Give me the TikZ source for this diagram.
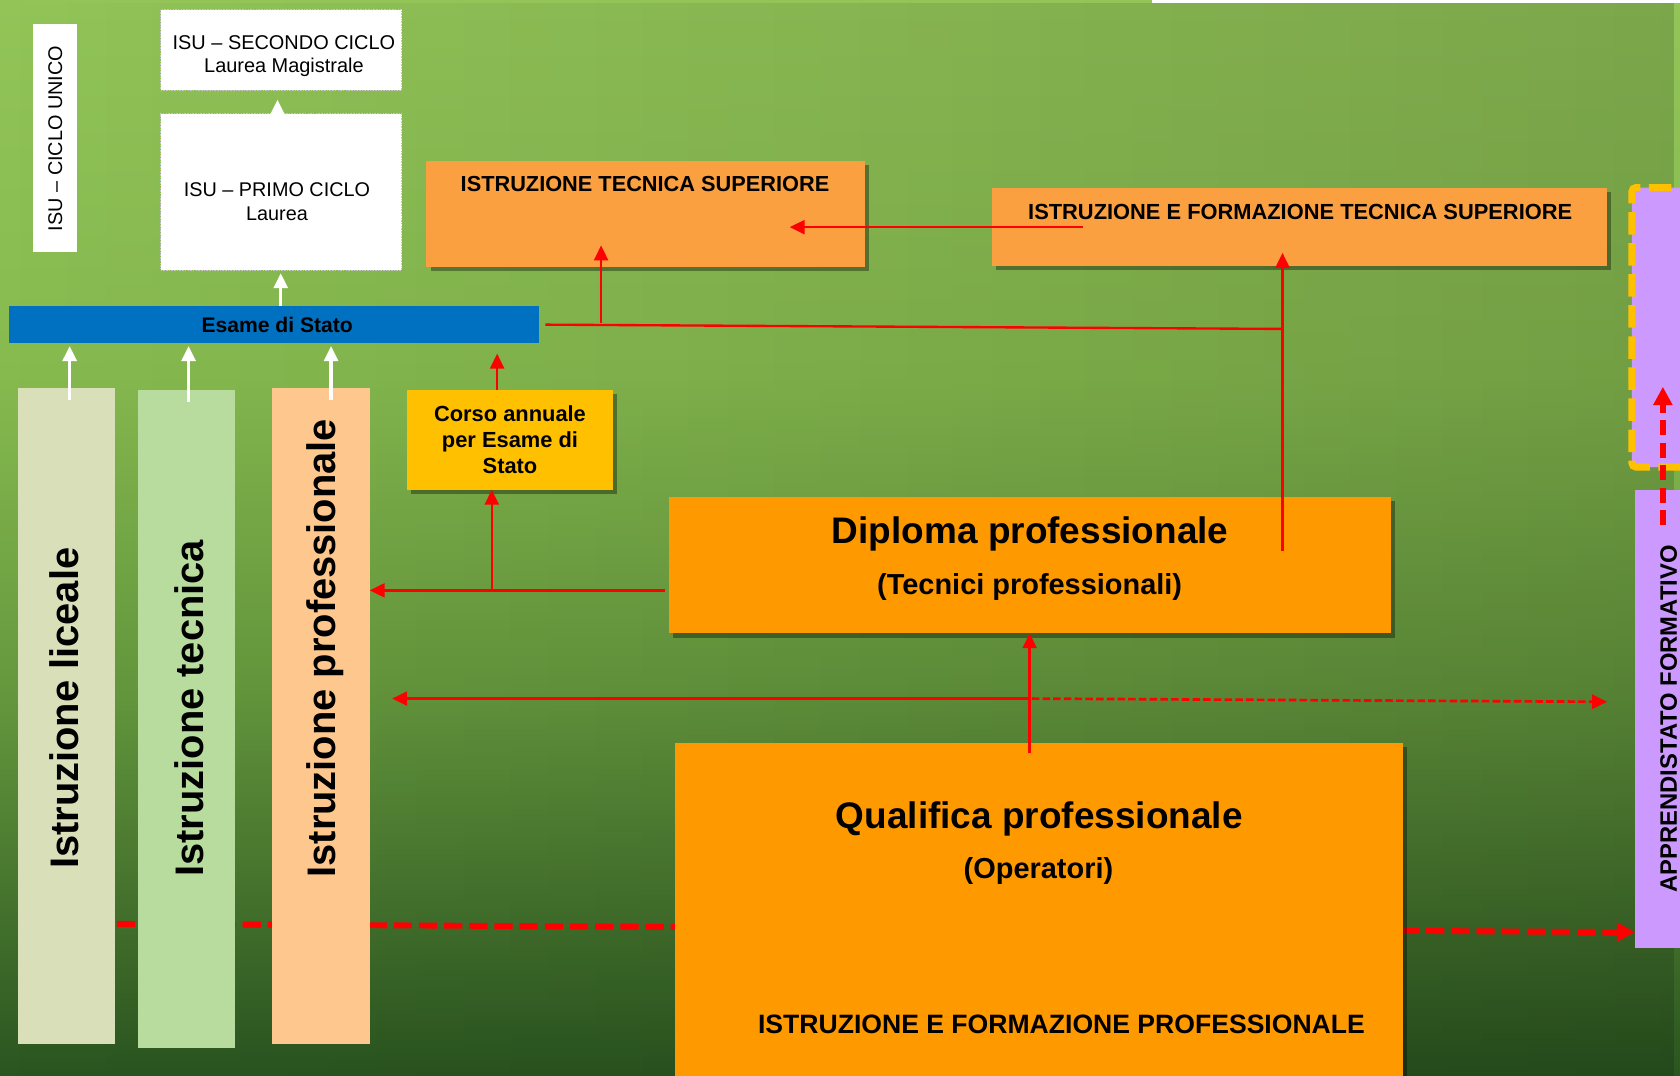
\documentclass[tikz,border=0pt]{standalone}
\usepackage{fontspec}
\setmainfont{Liberation Sans}
\usetikzlibrary{arrows.meta,shadows,fadings}
\definecolor{bgA}{HTML}{92C458}
\definecolor{bgB}{HTML}{86BA4F}
\definecolor{bgC}{HTML}{64973D}
\definecolor{bgD}{HTML}{2A5520}
\definecolor{esamec}{HTML}{0070C0}
\definecolor{orLight}{HTML}{FBA040}
\definecolor{orDark}{HTML}{FF9900}
\definecolor{goldc}{HTML}{FFC000}
\definecolor{liceoc}{HTML}{D9E0B9}
\definecolor{tecnc}{HTML}{B8DC9E}
\definecolor{profc}{HTML}{FDC78E}
\definecolor{lilacc}{HTML}{CC99FF}
\definecolor{redl}{HTML}{FF0000}
\newcommand{\fsz}[1]{\fontsize{#1pt}{#1pt}\selectfont}
\tikzfading[name=darkright, left color=transparent!100, right color=transparent!0]
\pgfdeclarelayer{back}
\pgfdeclarelayer{under}
\pgfsetlayers{back,under,main}
\begin{document}
\begin{tikzpicture}[x=1pt,y=-1pt,
  bx/.style={rectangle, inner sep=0pt, outer sep=0pt, anchor=north west},
  shad/.style={drop shadow={shadow xshift=4pt, shadow yshift=-4pt, opacity=0.35, fill=black}},
  lbl/.style={inner sep=0pt, outer sep=0pt, anchor=base, text=black},
  isubox/.style={bx, fill=white, draw=black!22, line width=0.7pt, dash pattern=on 1.5pt off 1pt},
  redln/.style={draw=redl, line width=2.2pt},
  redar/.style={redln, -{Triangle[length=14pt,width=13pt]}},
  whar/.style={draw=white, line width=3pt, -{Triangle[length=14pt,width=13pt]}},
  thindash/.style={redar, line width=2.5pt, dash pattern=on 7pt off 3pt},
  thickdash/.style={draw=redl, line width=5.5pt, dash pattern=on 17pt off 6.5pt, -{Triangle[length=17pt,width=17pt]}}
]
\useasboundingbox (0,0) rectangle (1568,1004);
\clip (0,0) rectangle (1568,1004);
\begin{pgfonlayer}{back}
\shade[top color=bgA, bottom color=bgB] (0,0) rectangle (1568,352);
\shade[top color=bgB, bottom color=bgC] (0,350) rectangle (1568,652);
\shade[top color=bgC, bottom color=bgD] (0,650) rectangle (1568,1004);
\fill[black, fill opacity=0.15, path fading=darkright] (0,0) rectangle (1568,1004);
\end{pgfonlayer}

% boxes
\node[bx, fill=white, minimum width=500pt, minimum height=2.5pt] (topbar) at (1075,0) {};
\node[bx, fill=white, minimum width=41pt, minimum height=213pt] (unico) at (31,22) {};
\node[isubox, minimum width=225pt, minimum height=75pt] (secondo) at (150,9) {};
\node[isubox, minimum width=225pt, minimum height=146pt] (primo) at (150,106) {};
\node[bx, fill=esamec, minimum width=495pt, minimum height=34pt] (esame) at (8,286) {};
\node[bx, fill=orLight, shad, minimum width=409pt, minimum height=99pt] (its) at (398,150) {};
\node[bx, fill=orLight, shad, minimum width=574pt, minimum height=73pt] (ifts) at (926,175) {};
\node[bx, fill=goldc, shad, minimum width=192pt, minimum height=93pt] (corso) at (380,364) {};
\node[bx, fill=liceoc, minimum width=90pt, minimum height=612pt] (liceale) at (17,362) {};
\node[bx, fill=tecnc, minimum width=90pt, minimum height=614pt] (tecnica) at (129,364) {};
\node[bx, fill=profc, minimum width=91pt, minimum height=612pt] (prof) at (254,362) {};
\node[bx, fill=orDark, shad, minimum width=674pt, minimum height=127pt] (dipl) at (624,464) {};
\node[bx, fill=orDark, shad, minimum width=679pt, minimum height=330pt] (qual) at (630,693) {};
\node[bx, fill=lilacc, draw=goldc, line width=6.5pt, dash pattern=on 21pt off 8pt, rounded corners=4pt, minimum width=70pt, minimum height=261pt] (lilac) at (1523,175) {};
\node[bx, fill=lilacc, minimum width=60pt, minimum height=428pt] (appr) at (1526,457) {};

% thick dashed line behind columns and Qualifica
\begin{pgfonlayer}{under}
\coordinate (b1) at (62,862);
\coordinate (b1y) at (0,870);
\draw[thickdash] (b1) -- (appr.west |- b1y);
\end{pgfonlayer}

% texts
\node[lbl, rotate=90, font=\fsz{18.5}] (tunico) at (58,129.3) {ISU – CICLO UNICO};
\node[lbl, font=\fsz{18.6}] (tsec1) at (265,46) {ISU – SECONDO CICLO};
\node[lbl, font=\fsz{18.6}] (tsec2) at (265,67.8) {Laurea Magistrale};
\node[lbl, font=\fsz{18.5}] (tpri1) at (258.5,183.5) {ISU – PRIMO CICLO};
\node[lbl, font=\fsz{18.5}] (tpri2) at (258.5,206) {Laurea};
\node[lbl, font=\bfseries\fsz{19.7}] (tesame) at (258.7,310) {Esame di Stato};
\node[lbl, font=\bfseries\fsz{20.3}] (tits) at (602,179) {ISTRUZIONE TECNICA SUPERIORE};
\node[lbl, font=\bfseries\fsz{20.4}] (tifts) at (1213.5,204.7) {ISTRUZIONE E FORMAZIONE TECNICA SUPERIORE};
\node[lbl, font=\bfseries\fsz{20.4}] (tc1) at (476,393) {Corso annuale};
\node[lbl, font=\bfseries\fsz{20.4}] (tc2) at (476,418) {per Esame di};
\node[lbl, font=\bfseries\fsz{20.4}] (tc3) at (476,442) {Stato};
\node[lbl, font=\bfseries\fsz{34.5}] (tdip1) at (961.5,507) {Diploma professionale};
\node[lbl, font=\bfseries\fsz{27}] (tdip2) at (961,555.3) {(Tecnici professionali)};
\node[lbl, font=\bfseries\fsz{34.5}] (tq1) at (970,773) {Qualifica professionale};
\node[lbl, font=\bfseries\fsz{27}] (tq2) at (969.2,819.8) {(Operatori)};
\node[lbl, font=\bfseries\fsz{24.8}] (tq3) at (990.7,964.4) {ISTRUZIONE E FORMAZIONE PROFESSIONALE};
\node[lbl, rotate=90, font=\bfseries\fsz{37.2}] (tlic) at (73,661) {Istruzione liceale};
\node[lbl, rotate=90, font=\bfseries\fsz{37.2}] (ttec) at (189.8,661) {Istruzione tecnica};
\node[lbl, rotate=90, font=\bfseries\fsz{37.2}] (tpro) at (312.7,605) {Istruzione professionale};
\node[lbl, rotate=90, font=\bfseries\fsz{22.2}] (tapp) at (1565,671) {APPRENDISTATO FORMATIVO};

% white arrows
\coordinate (w1) at (65,373);
\coordinate (w2) at (176,375);
\coordinate (w3) at (309,373);
\coordinate (w4) at (262,0);
\coordinate (w5) at (259,112);
\draw[whar, shorten >=3pt] (w1) -- (w1 |- esame.south);
\draw[whar, shorten >=3pt] (w2) -- (w2 |- esame.south);
\draw[whar, shorten >=3pt] (w3) -- (w3 |- esame.south);
\draw[whar, shorten >=3pt] (esame.north -| w4) -- (primo.south -| w4);
\draw[whar, shorten >=9pt] (w5) -- (w5 |- secondo.south);

% red arrows
\coordinate (r1) at (464,0);
\draw[redar, shorten >=10pt] (corso.north -| r1) -- (esame.south -| r1);
\coordinate (r2) at (620.6,551);
\draw[redar] (r2) -- (r2 -| prof.east);
\coordinate (r3) at (459,551);
\draw[redar] (r3) -- (r3 |- corso.south);
\coordinate (r4) at (509,303);
\coordinate (r5) at (1197,307);
\draw[redln] (r4) -- (r5);
\coordinate (r6) at (561,301);
\coordinate (r6t) at (561,229);
\draw[redar] (r6) -- (r6t);
\coordinate (r7) at (1197,514);
\coordinate (r7t) at (1197,236);
\draw[redar] (r7) -- (r7t);
\coordinate (r8) at (1011,212);
\coordinate (r8t) at (737,212);
\draw[redar] (r8) -- (r8t);
\coordinate (r9) at (961,703);
\draw[redar] (r9) -- (r9 |- dipl.south);
\coordinate (r10) at (961,652);
\coordinate (r10t) at (366,652);
\draw[redar] (r10) -- (r10t);
\coordinate (r11) at (963,652);
\coordinate (r11t) at (1500,655);
\draw[thindash] (r11) -- (r11t);
\coordinate (v1) at (1552,490);
\coordinate (v1t) at (1552,361);
\draw[thickdash, dash pattern=on 14pt off 7pt] (v1) -- (v1t);
\end{tikzpicture}
\end{document}
